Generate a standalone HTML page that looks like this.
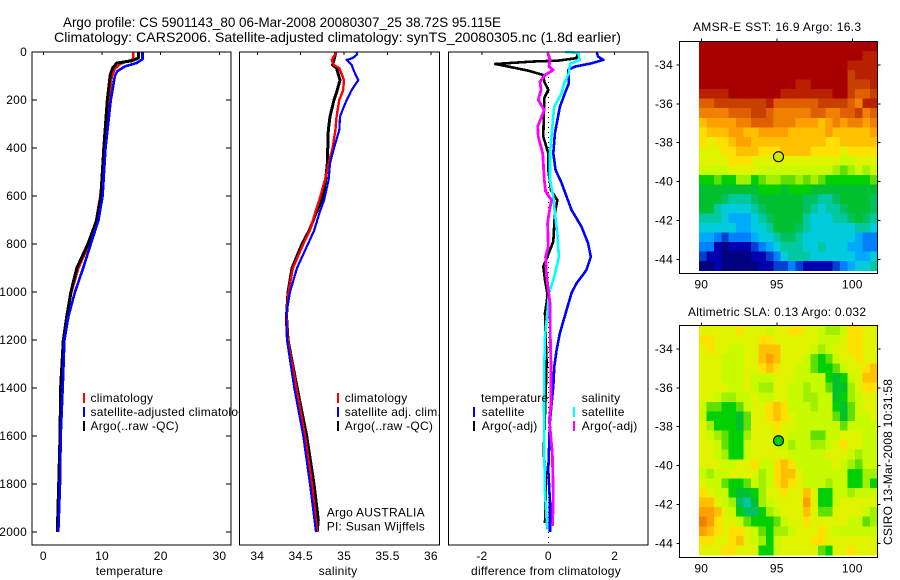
<!DOCTYPE html>
<html>
<head>
<meta charset="utf-8">
<title>Argo profile CS 5901143_80</title>
<style>
html,body{margin:0;padding:0;background:#fff;}
svg{display:block;font-family:"Liberation Sans",Arial,sans-serif;}
text{fill:#000;font-size:12px;letter-spacing:0.25px;}
</style>
</head>
<body>
<svg id="chart" xmlns="http://www.w3.org/2000/svg" width="900" height="580" viewBox="0 0 900 580">
<rect x="0" y="0" width="900" height="580" fill="#fff"/>
<text x="63" y="27" textLength="438" lengthAdjust="spacingAndGlyphs" style="font-size:14px;letter-spacing:0">Argo profile: CS 5901143_80 06-Mar-2008 20080307_25 38.72S 95.115E</text>
<text x="54" y="42" textLength="567" lengthAdjust="spacingAndGlyphs" style="font-size:14px;letter-spacing:0">Climatology: CARS2006. Satellite-adjusted climatology: synTS_20080305.nc (1.8d earlier)</text>
<text x="693" y="31" textLength="168" style="letter-spacing:0">AMSR-E SST: 16.9 Argo: 16.3</text>
<text x="688" y="316" textLength="178" style="letter-spacing:0">Altimetric SLA: 0.13 Argo: 0.032</text>
<text transform="translate(892,545) rotate(-90)" textLength="166" style="letter-spacing:0">CSIRO 13-Mar-2008 10:31:58</text>
</svg>
<script>
// ---- profile data (pressure in dbar, x value in data units) ----
const depthTicks = [0,200,400,600,800,1000,1200,1400,1600,1800,2000];
const tempTicks = [0,10,20,30];
const salTicks = [34,34.5,35,35.5,36];
const salTickLabels = ["34","34.5","35","35.5","36"];
const diffTicks = [-2,0,2];
const latTicks = [-34,-36,-38,-40,-42,-44];
const lonTicks = [90,95,100];

const tempClimP = [0,30,37,50,70,100,200,400,500,600,700,800,900,1000,1100,1200,1400,1600,1800,2000];
const tempClimV = [15.3,15.3,14.5,13.1,12.2,11.7,11.1,10.5,10.1,9.7,9.0,7.8,6.0,4.8,4.0,3.4,2.9,2.85,2.65,2.42];
const tempSatP = [0,30,46,60,80,100,200,400,600,700,800,900,1000,1100,1200,1400,1600,1800,2000];
const tempSatV = [16.9,16.9,15.9,13.9,12.6,12.2,11.5,10.6,10.1,9.4,8.1,6.8,5.4,4.3,3.6,3.3,2.96,2.85,2.56];
const tempArgoP = [0,25,37,46,67,96,200,400,604,700,800,900,1000,1100,1200,1400,1600,1800,2000];
const tempArgoV = [16.2,16.2,15.0,12.5,11.8,11.4,10.9,10.3,9.8,9.1,7.6,5.7,4.7,4.0,3.4,2.95,2.84,2.62,2.39];

const salClimP = [0,33,54,68,117,158,200,269,325,400,464,533,617,672,742,800,900,1000,1100,1200,1400,1600,1800,2000];
const salClimV = [34.914,34.857,34.884,34.945,34.999,34.99,34.945,34.914,34.9,34.868,34.822,34.78,34.714,34.665,34.607,34.53,34.41,34.36,34.335,34.35,34.45,34.55,34.63,34.69];
const salSatP = [0,10,25,33,54,80,117,158,200,240,269,325,400,464,533,617,672,742,800,900,1000,1100,1200,1400,1600,1800,2000];
const salSatV = [35.145,35.15,35.1,35.03,35.087,35.114,35.164,35.087,35.03,34.984,34.953,34.945,34.884,34.838,34.822,34.77,34.714,34.657,34.584,34.457,34.377,34.33,34.342,34.426,34.53,34.607,34.676];
const salArgoP = [0,33,54,68,117,158,200,269,325,464,533,617,672,742,800,900,1000,1100,1200,1400,1600,1800,1950,2000];
const salArgoV = [34.907,34.884,34.868,34.914,34.953,34.922,34.884,34.838,34.818,34.806,34.788,34.742,34.676,34.6,34.515,34.4,34.354,34.336,34.354,34.46,34.569,34.653,34.703,34.69];

const diffTempSatP = [2,19,33,47,61,75,130,172,228,339,422,492,546,603,658,728,797,853,908,964,1004,1075,1171,1242,1311,1394,1533,1742,1880,1999];
const diffTempSatV = [1.46,1.5,1.66,1.3,0.8,0.6,0.62,0.5,0.35,0.2,0.15,0.22,0.4,0.55,0.7,1.0,1.2,1.28,1.15,0.85,0.7,0.55,0.35,0.25,0.18,0.15,0.05,0,0.05,0.05];
const diffTempArgoP = [2,26,36,40,50,61,78,96,124,158,192,228,353,422,492,575,617,672,790,825,894,950,1012,1046,1087,1186,1296,1380,1671,1770,1963];
const diffTempArgoV = [0.9,0.85,0.3,-0.5,-1.6,-1.2,-0.6,-0.15,-0.12,0,-0.12,-0.13,-0.15,0,0,0.08,0.27,0.2,0.15,0.05,-0.15,-0.1,-0.02,-0.05,-0.1,-0.08,-0.05,-0.07,-0.14,-0.07,-0.1];
const diffSalSatP = [1,3,33,50,89,130,172,228,311,422,533,603,672,769,853,936,1004,1075,1186,1311,1463,1671,1838,1990];
const diffSalSatV = [0.5,0.9,0.95,0.65,0.62,0.48,0.4,0.18,0.12,0.05,0.05,0.15,0.2,0.28,0.32,0.18,0.02,-0.02,-0.1,-0.12,-0.13,-0.12,-0.1,-0.03];
const diffSalArgoP = [2,33,61,75,96,124,158,200,242,311,353,422,533,581,617,672,714,811,853,936,1046,1186,1311,1463,1533,1671,1838,1975];
const diffSalArgoV = [-0.02,0.05,0.02,0.15,-0.1,-0.25,-0.22,-0.3,-0.12,-0.32,-0.3,-0.17,-0.12,-0.08,0.1,0.02,-0.02,0,-0.08,-0.05,0.05,0.06,0.08,0.08,0.03,0.12,0.15,0.13];

// ---- map data: colour-level value for each grid cell, north to south ----
const mapLevelColors = ["#000080","#0000b0","#0040d0","#0080ff","#00aaff","#00ccdd","#00c8a0","#00c060","#00c030","#00d000","#60e000","#a0f000","#c8fa00","#e0f400","#ffe000","#ffc000","#ffa000","#f08000","#e06000","#c84000","#b82000","#a80000"];
const sstRows = [
[21,21,21,21,21,21,21,21,21,21,21,21,21,21,21,21,21,21,21,21,21,21,21,21],
[21,21,21,21,21,21,21,21,21,21,21,21,21,21,21,21,21,21,21,21,21,21,20,20],
[21,21,21,21,21,21,21,21,21,21,21,21,21,21,21,21,21,21,21,21,20,20,20,20],
[21,21,21,21,21,21,21,21,21,21,21,21,21,21,21,21,21,21,21,21,19,20,20,20],
[21,21,21,21,21,21,21,21,21,21,21,21,21,20,20,21,21,21,21,21,19,19,19,20],
[20,20,20,20,21,21,21,21,21,21,21,20,20,20,20,20,20,20,21,21,19,18,18,19],
[18,18,19,19,19,19,19,19,19,20,18,18,18,18,18,18,19,19,19,19,18,17,20,20],
[17,17,17,17,18,18,18,19,19,18,17,17,17,17,17,18,18,17,17,18,18,19,17,18],
[15,16,16,16,16,17,17,18,18,18,17,17,17,16,16,16,15,16,17,16,17,17,16,17],
[14,15,15,15,16,16,15,15,16,16,16,16,15,15,15,15,15,16,15,15,15,15,15,16],
[14,13,14,14,15,16,16,15,15,15,15,15,15,15,15,15,15,14,14,15,15,15,15,15],
[13,13,13,14,14,15,15,15,14,14,14,15,15,15,15,14,14,14,14,13,14,14,14,14],
[13,13,13,13,14,14,14,13,13,13,13,13,13,13,13,13,13,13,13,12,12,13,13,13],
[12,12,12,12,13,13,13,13,12,12,12,12,12,12,12,12,12,12,11,10,11,12,11,12],
[9,9,10,9,9,11,11,9,10,11,11,10,10,11,10,11,10,9,9,9,9,9,9,10],
[8,8,8,8,8,8,8,8,9,9,9,8,9,9,9,8,8,8,8,8,8,8,8,8],
[8,8,8,7,6,6,6,7,8,8,8,8,8,8,7,7,6,6,7,8,8,8,8,7],
[8,8,6,5,5,5,5,6,7,8,8,8,8,8,7,6,5,6,6,7,8,8,8,7],
[6,6,6,5,4,4,4,5,6,7,8,8,8,8,6,5,5,5,6,6,7,8,7,6],
[5,5,5,5,5,4,4,5,5,6,8,8,8,7,6,5,5,5,5,5,5,6,6,5],
[4,4,3,2,3,3,3,4,5,5,6,7,7,6,5,5,5,5,5,5,5,4,3,3],
[3,3,1,0,1,1,1,2,3,4,5,6,6,6,5,5,6,5,5,5,4,4,3,3],
[2,1,1,0,0,0,0,1,1,2,3,5,6,6,6,5,5,5,5,5,5,4,4,5],
[0,0,1,0,0,0,0,0,1,1,2,2,3,2,1,1,1,1,2,3,4,5,5,6]
];
const slaRows = [
[13,13,13,13,13,14,13,13,13,12,13,13,14,14,13,13,12,11,11,12,14,14,13,13],
[14,14,13,13,13,13,13,13,14,14,13,13,13,13,13,13,12,12,12,13,14,14,13,13],
[13,14,13,13,12,12,13,13,15,15,15,13,13,13,13,12,11,12,13,13,14,14,13,13],
[13,13,13,12,12,12,13,13,15,16,15,13,13,13,12,10,9,10,12,13,13,14,13,13],
[13,13,13,12,12,12,13,13,14,15,14,13,13,12,12,10,9,9,10,12,13,13,14,15],
[13,13,13,12,12,12,13,12,12,12,13,13,13,12,12,12,12,9,8,9,12,13,15,15],
[13,13,13,13,12,12,13,12,11,11,13,13,12,12,11,12,12,10,8,8,11,13,14,14],
[13,13,12,11,11,12,12,13,12,12,13,13,12,12,11,11,12,12,8,9,11,12,13,13],
[12,10,10,9,9,10,12,13,13,14,15,14,12,12,12,11,12,12,9,8,10,12,13,13],
[12,9,9,9,9,8,10,13,13,14,15,14,13,12,12,12,12,12,10,8,10,12,12,13],
[13,11,9,9,9,8,10,13,13,13,14,13,13,12,12,12,12,12,12,10,12,12,12,12],
[13,12,11,10,9,9,11,13,13,13,13,13,12,12,12,10,10,12,12,13,13,13,12,12],
[13,13,12,10,9,9,12,13,13,13,12,12,11,12,12,11,11,12,13,14,13,13,12,12],
[13,13,12,11,9,9,12,13,13,13,13,13,12,12,12,12,12,13,13,13,12,11,12,12],
[13,13,13,12,12,13,13,14,12,12,14,15,14,12,12,12,12,12,13,12,11,10,12,12],
[12,11,12,12,13,13,13,13,11,12,14,15,15,13,12,12,12,12,12,12,9,9,11,11],
[13,12,12,10,9,9,10,12,11,12,14,15,14,13,12,12,12,11,12,12,9,9,11,9],
[14,13,12,12,9,8,8,9,11,13,13,14,13,13,15,13,9,9,12,12,11,12,12,12],
[15,15,13,12,11,7,6,8,11,12,13,13,13,13,16,13,9,9,12,13,13,13,13,13],
[16,16,15,13,12,9,7,7,9,11,12,13,13,13,15,13,10,10,13,13,13,13,12,11],
[17,16,14,13,13,12,10,9,9,9,10,12,13,13,14,13,13,13,13,13,12,12,10,11],
[16,15,14,13,14,14,13,12,10,9,11,11,12,13,13,13,14,13,12,12,12,12,12,12],
[14,14,13,13,14,15,13,12,11,9,12,13,13,13,13,14,14,13,13,13,13,13,13,13],
[13,13,13,14,14,13,13,13,9,9,12,13,13,13,13,13,10,9,13,13,14,13,13,13]
];
const argoLon = 95.115;
const argoLat = -38.72;
const argoSstColor = "#ccee00";
const argoSlaColor = "#00d000";

const svg = document.getElementById('chart');
const NS = 'http://www.w3.org/2000/svg';
function mk(tag, attrs, parent){
  const el = document.createElementNS(NS, tag);
  for (const k in attrs) el.setAttribute(k, attrs[k]);
  (parent || svg).appendChild(el);
  return el;
}
function hLine(x1,x2,y,parent){
  return mk('line',{x1:x1,x2:x2,y1:y,y2:y,stroke:'#000','stroke-width':1,'shape-rendering':'crispEdges'},parent);
}
function vLine(x,y1,y2,parent){
  return mk('line',{x1:x,x2:x,y1:y1,y2:y2,stroke:'#000','stroke-width':1,'shape-rendering':'crispEdges'},parent);
}
function label(str,x,y,anchor,parent){
  const t = mk('text',{x:x,y:y,'text-anchor':anchor||'start'},parent);
  t.textContent = str;
  return t;
}

// axis functions
const TOP = 52, BOTTOM = 545;
const yDepth = p => 52 + p * 0.24;
const xTemp = v => 43.3 + v * 5.87;
const xSal = v => 257.3 + (v - 34) * 86.8;
const xDiff = v => 548.3 + v * 33.2;

function drawSeries(ps, vs, xf, color, w, parent){
  const pts = ps.map((p,i) => xf(vs[i]).toFixed(1) + ',' + yDepth(p).toFixed(1)).join(' ');
  return mk('polyline',{points:pts,fill:'none',stroke:color,'stroke-width':w,'shape-rendering':'crispEdges','stroke-linejoin':'round'},parent);
}
function panelFrame(x1,x2,parent){
  return mk('rect',{x:x1,y:TOP,width:x2-x1,height:BOTTOM-TOP,fill:'none',stroke:'#000','stroke-width':1,'shape-rendering':'crispEdges'},parent);
}
function legendBar(x,y,color,parent){
  return mk('rect',{x:x,y:y,width:2,height:10,fill:color,'shape-rendering':'crispEdges'},parent);
}

// ---------- panel 1: temperature ----------
const g1 = mk('g',{});


const bg1 = mk('rect',{x:32,y:TOP,width:199,height:BOTTOM-TOP,fill:'#fff'},g1);


depthTicks.forEach(p => {
  const a = hLine(32,37,yDepth(p),g1);
  
  
  const b = hLine(226,231,yDepth(p),g1);
  
  
  const t = label(String(p),27,yDepth(p)+4,'end',g1);
  
  
});
tempTicks.forEach(v => {
  const k = vLine(xTemp(v),TOP,TOP+3,g1);
  
  
  const t = label(String(v),xTemp(v),560,'middle',g1);
  
  
});
const s1a = drawSeries(tempClimP,tempClimV,xTemp,'#ff0000',2.4,g1);


const s1b = drawSeries(tempArgoP,tempArgoV,xTemp,'#000000',3,g1);


const s1c = drawSeries(tempSatP,tempSatV,xTemp,'#0000ff',2.6,g1);


const f1 = panelFrame(32,231,g1);


const xl1 = label('temperature',129.5,575,'middle',g1);


const tempLegendItems = [['climatology','#ff0000',393,402],['satellite-adjusted climatology','#0000ff',407,416],['Argo(..raw -QC)','#000000',421,430]];
tempLegendItems.forEach(it => {
  const b = legendBar(83,it[2],it[1],g1);
  
  
  const t = label(it[0],90.5,it[3],'start',g1);
  
  
});

// ---------- panel 2: salinity ----------
const g2 = mk('g',{});


const bg2 = mk('rect',{x:239.5,y:TOP,width:200,height:BOTTOM-TOP,fill:'#fff'},g2);


salTicks.forEach((v,i) => {
  const k = vLine(xSal(v),TOP,TOP+3,g2);
  
  
  const t = label(salTickLabels[i],xSal(v),560,'middle',g2);
  
  
});
const s2a = drawSeries(salArgoP,salArgoV,xSal,'#000000',3,g2);


const s2b = drawSeries(salClimP,salClimV,xSal,'#ff0000',2.4,g2);


const s2c = drawSeries(salSatP,salSatV,xSal,'#0000ff',2.2,g2);


const f2 = panelFrame(239.5,439.5,g2);


const xl2 = label('salinity',338,575,'middle',g2);


const salLegendItems = [['climatology','#ff0000',393,402],['satellite adj. clim.','#0000ff',407,416],['Argo(..raw -QC)','#000000',421,430]];
salLegendItems.forEach(it => {
  const b = legendBar(337,it[2],it[1],g2);
  
  
  const t = label(it[0],344.7,it[3],'start',g2);
  
  
});
const an1 = label('Argo AUSTRALIA',326.7,516.5,'start',g2);


const an2 = label('PI: Susan Wijffels',326.7,530.5,'start',g2);



// ---------- panel 3: differences ----------
const g3 = mk('g',{});


const bg3 = mk('rect',{x:448.5,y:TOP,width:199.5,height:BOTTOM-TOP,fill:'#fff'},g3);


diffTicks.forEach(v => {
  const k = vLine(xDiff(v),TOP,TOP+3,g3);
  
  
  const t = label(String(v),xDiff(v),560,'middle',g3);
  
  
});
const zl = mk('line',{x1:xDiff(0),x2:xDiff(0),y1:TOP,y2:BOTTOM,stroke:'#000','stroke-width':1,'stroke-dasharray':'1 4','shape-rendering':'crispEdges'},g3);


const s3a = drawSeries(diffTempArgoP,diffTempArgoV,xDiff,'#000000',2.6,g3);


const s3b = drawSeries(diffTempSatP,diffTempSatV,xDiff,'#0000ff',2.6,g3);


const s3c = drawSeries(diffSalSatP,diffSalSatV,xDiff,'#00ffff',2.6,g3);


const s3d = drawSeries(diffSalArgoP,diffSalArgoV,xDiff,'#ff00ff',2.8,g3);


const f3 = panelFrame(448.5,648,g3);


const xl3 = label('difference from climatology',546,575,'middle',g3);


const diffLegendHeads = [['temperature',481],['salinity',581.7]];
diffLegendHeads.forEach(it => {
  const t = label(it[0],it[1],402,'start',g3);
  
  
});
const diffLegendItems = [['satellite','#0000ff',473,481.7,407,416],['Argo(-adj)','#000000',473,481.7,421,430],['satellite','#00ffff',573,581.7,407,416],['Argo(-adj)','#ff00ff',573,581.7,421,430]];
diffLegendItems.forEach(it => {
  const b = legendBar(it[2],it[4],it[1],g3);
  
  
  const t = label(it[0],it[3],it[5],'start',g3);
  
  
});

// ---------- maps ----------
const MAP_LEFT = 679.3, MAP_RIGHT = 877.3, DATA_LEFT = 699;
const xLon = lon => 701.3 + (lon - 90) * 15.1;
function drawMap(name, rows, boxTop, boxBottom, dataBottom, lat34y, argoColor){
  const yLat = lat => lat34y + (-34 - lat) * 19.43;
  const g = mk('g',{});
  
  
  const nr = rows.length, nc = rows[0].length;
  const cw = (MAP_RIGHT - DATA_LEFT) / nc, ch = (dataBottom - boxTop) / nr;
  rows.forEach((row,r) => row.forEach((v,c) => {
    const cell = mk('rect',{x:(DATA_LEFT + c*cw).toFixed(2),y:(boxTop + r*ch).toFixed(2),width:(cw+0.4).toFixed(2),height:(ch+0.4).toFixed(2),fill:mapLevelColors[v],'shape-rendering':'crispEdges'},g);
    
    
  }));
  const fr = mk('rect',{x:MAP_LEFT,y:boxTop,width:MAP_RIGHT-MAP_LEFT,height:boxBottom-boxTop,fill:'none',stroke:'#000','stroke-width':1,'shape-rendering':'crispEdges'},g);
  
  
  latTicks.forEach(lat => {
    const k = hLine(MAP_RIGHT,MAP_RIGHT+3,yLat(lat),g);
    
    
    const l = hLine(MAP_LEFT-3,MAP_LEFT,yLat(lat),g);
    
    
    const t = label(String(lat),673,yLat(lat)+4,'end',g);
    
    
  });
  lonTicks.forEach(lon => {
    const k = vLine(xLon(lon),boxTop-3,boxTop,g);
    
    
    const t = label(String(lon),xLon(lon),boxBottom+15,'middle',g);
    
    
  });
  const dot = mk('circle',{cx:xLon(argoLon).toFixed(1),cy:yLat(argoLat).toFixed(1),r:5,fill:argoColor,stroke:'#000','stroke-width':1.1},g);
  
  
}
drawMap('sst', sstRows, 41.3, 273.3, 270.7, 65, argoSstColor);
drawMap('sla', slaRows, 325.3, 557.3, 555, 349, argoSlaColor);
</script>
</body>
</html>
